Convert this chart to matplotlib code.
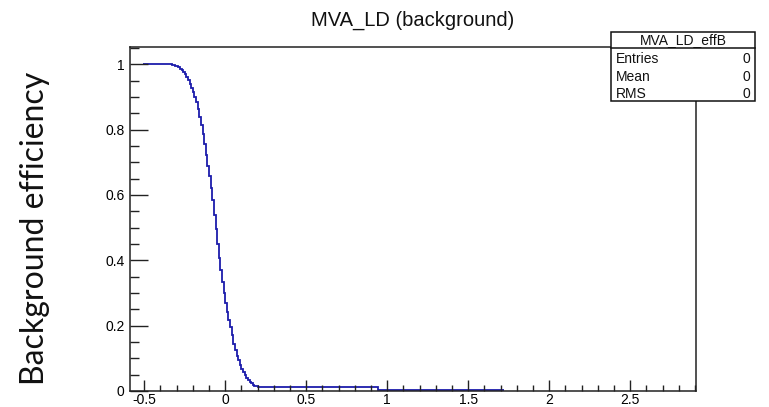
import matplotlib
matplotlib.use("Agg")
import matplotlib.pyplot as plt
from matplotlib.patches import Rectangle
from matplotlib.lines import Line2D
from matplotlib.ticker import MultipleLocator, FixedLocator
import numpy as np

# ---- data ----
# left edges of histogram bins and the efficiency in each bin
bin_lo = [-0.51, -0.34, -0.33, -0.32, -0.31, -0.30, -0.29, -0.28, -0.27, -0.26,
          -0.25, -0.24, -0.23, -0.22, -0.21, -0.20, -0.19, -0.18, -0.17, -0.16,
          -0.15, -0.14, -0.13, -0.12, -0.11, -0.10, -0.09, -0.08, -0.07, -0.06,
          -0.05, -0.04, -0.03, -0.02, -0.01, 0.00, 0.01, 0.02, 0.03, 0.04,
          0.05, 0.06, 0.07, 0.08, 0.09, 0.10, 0.11, 0.12, 0.13, 0.14,
          0.15, 0.16, 0.17, 0.18, 0.19, 0.20, 0.21, 0.22, 0.94]
bin_hi_last = 1.72
eff_bkg = [1.000, 1.000, 0.999, 0.998, 0.996, 0.994, 0.991, 0.987, 0.982, 0.976,
           0.969, 0.961, 0.951, 0.940, 0.928, 0.914, 0.900, 0.884, 0.862, 0.840,
           0.815, 0.786, 0.755, 0.722, 0.690, 0.658, 0.622, 0.585, 0.540, 0.497,
           0.450, 0.408, 0.370, 0.333, 0.300, 0.270, 0.243, 0.218, 0.196, 0.170,
           0.145, 0.125, 0.108, 0.094, 0.080, 0.068, 0.058, 0.049, 0.041, 0.034,
           0.028, 0.023, 0.019, 0.016, 0.014, 0.013, 0.012, 0.011, 0.003]

title = "MVA_LD (background)"
ylabel = "Background efficiency"
stats_title = "MVA_LD_effB"
stats_names = ["Entries", "Mean", "RMS"]
stats_values = ["0", "0", "0"]
x_major = [-0.5, 0, 0.5, 1, 1.5, 2, 2.5]
x_major_labels = ["-0.5", "0", "0.5", "1", "1.5", "2", "2.5"]
y_major = [0, 0.2, 0.4, 0.6, 0.8, 1]
y_major_labels = ["0", "0.2", "0.4", "0.6", "0.8", "1"]

# ---- figure ----
W, H = 769, 407
fig = plt.figure(figsize=(W / 100, H / 100), dpi=100)
fig.patch.set_facecolor("white")

L, R, T, B = 130, 696, 47, 391
ax = fig.add_axes([L / W, 1 - B / H, (R - L) / W, (B - T) / H])

edges = list(bin_lo) + [bin_hi_last]
ax.stairs(eff_bkg, edges, color="#1c1cab", linewidth=1.3, baseline=None)

ax.set_xlim(-0.588, 2.906)
ax.set_ylim(0, 1.053)

tf = "Liberation Sans"
ax.xaxis.set_major_locator(FixedLocator(x_major))
ax.set_xticklabels(x_major_labels, fontfamily=tf, fontsize=10, color="#000")
ax.xaxis.set_minor_locator(MultipleLocator(0.1))
ax.yaxis.set_major_locator(FixedLocator(y_major))
ax.set_yticklabels(y_major_labels, fontfamily=tf, fontsize=10, color="#000")
ax.yaxis.set_minor_locator(MultipleLocator(0.05))

ax.tick_params(axis="x", which="major", direction="in", length=8, width=1,
               color="#222", pad=1.5)
ax.tick_params(axis="x", which="minor", direction="in", length=4, width=1,
               color="#222")
ax.tick_params(axis="y", which="major", direction="in", length=13, width=1,
               color="#222", pad=4)
ax.tick_params(axis="y", which="minor", direction="in", length=6.5, width=1,
               color="#222")
for s in ax.spines.values():
    s.set_color("#222")
    s.set_linewidth(1.1)

fig.text(413 / W, 1 - 20 / H, title, ha="center", va="center",
         fontfamily=tf, fontsize=14.5, color="#111")

fig.text(35 / W, 1 - 228 / H, ylabel, rotation=90, ha="center", va="center",
         fontfamily="Lato", fontsize=23, color="#111")

# stats box
bx0, bx1, by0, by1, byt = 611, 755, 32, 101, 48
fig.patches.append(Rectangle((bx0 / W, 1 - by1 / H), (bx1 - bx0) / W,
                             (by1 - by0) / H, transform=fig.transFigure,
                             facecolor="white", edgecolor="#111", linewidth=1.1,
                             zorder=5))
fig.lines.append(Line2D([bx0 / W, bx1 / W], [1 - byt / H, 1 - byt / H],
                        transform=fig.transFigure, color="#111", linewidth=1.1,
                        zorder=6))
fig.text((bx0 + bx1) / 2 / W, 1 - (by0 + byt) / 2 / H, stats_title,
         ha="center", va="center", fontfamily=tf, fontsize=10, color="#111",
         zorder=7)
row_y = [59, 77, 94]
for name, val, yy in zip(stats_names, stats_values, row_y):
    fig.text((bx0 + 5) / W, 1 - yy / H, name, ha="left", va="center",
             fontfamily=tf, fontsize=10, color="#111", zorder=7)
    fig.text((bx1 - 5) / W, 1 - yy / H, val, ha="right", va="center",
             fontfamily=tf, fontsize=10, color="#111", zorder=7)

fig.savefig("out.png", dpi=100, facecolor="white")
